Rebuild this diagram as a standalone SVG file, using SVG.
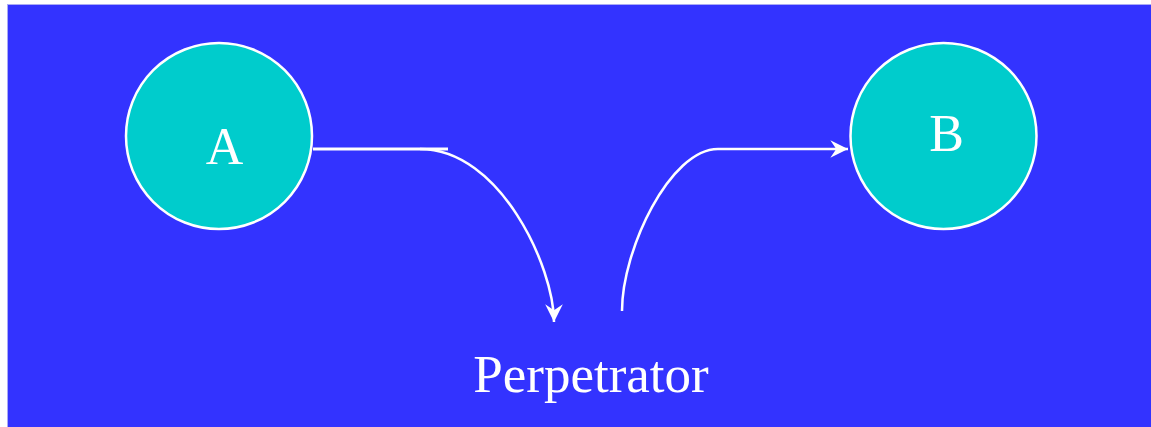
<svg xmlns="http://www.w3.org/2000/svg" width="1151" height="427" viewBox="0 0 1151 427">
  <style>
    .node circle { fill: #00cccc; stroke: #ffffff; stroke-width: 2.5; }
    .label { font-family: "Liberation Serif", "Times New Roman", serif; font-size: 52px; fill: #ffffff; text-anchor: middle; }
    .edge { fill: none; stroke: #ffffff; stroke-width: 2.5; }
  </style>
  <defs>
    <marker id="arrow" markerUnits="userSpaceOnUse" markerWidth="20" markerHeight="20" viewBox="-16 -8 17 16" refX="0" refY="0" orient="auto">
      <path d="M0,0 L-15,-7.5 L-10,0 L-15,7.5 Z" fill="#ffffff"/>
    </marker>
  </defs>
  <rect x="0" y="0" width="1151" height="427" fill="#ffffff"/>
  <rect x="7.5" y="4.5" width="1150" height="430" fill="#3333ff" stroke="#aaaaf5" stroke-width="1"/>
  <g id="node-A" class="node">
    <circle cx="219" cy="136" r="93"/>
    <text class="label" x="224.5" y="164">A</text>
  </g>
  <g id="node-B" class="node">
    <circle cx="943.5" cy="136" r="93"/>
    <text class="label" x="946.5" y="151">B</text>
  </g>
  <g id="node-Perpetrator">
    <text class="label" x="591" y="392" style="font-size:53px">Perpetrator</text>
  </g>
  <g id="connectors">
    <line x1="313" y1="149" x2="448" y2="149" stroke="#ffffff" stroke-width="3"/>
    <path class="edge" d="M420,149 C500,149 554,267 554,322" marker-end="url(#arrow)"/>
    <path class="edge" d="M622,311 C622,250 670,149 718,149 L848,149" marker-end="url(#arrow)"/>
  </g>
</svg>
